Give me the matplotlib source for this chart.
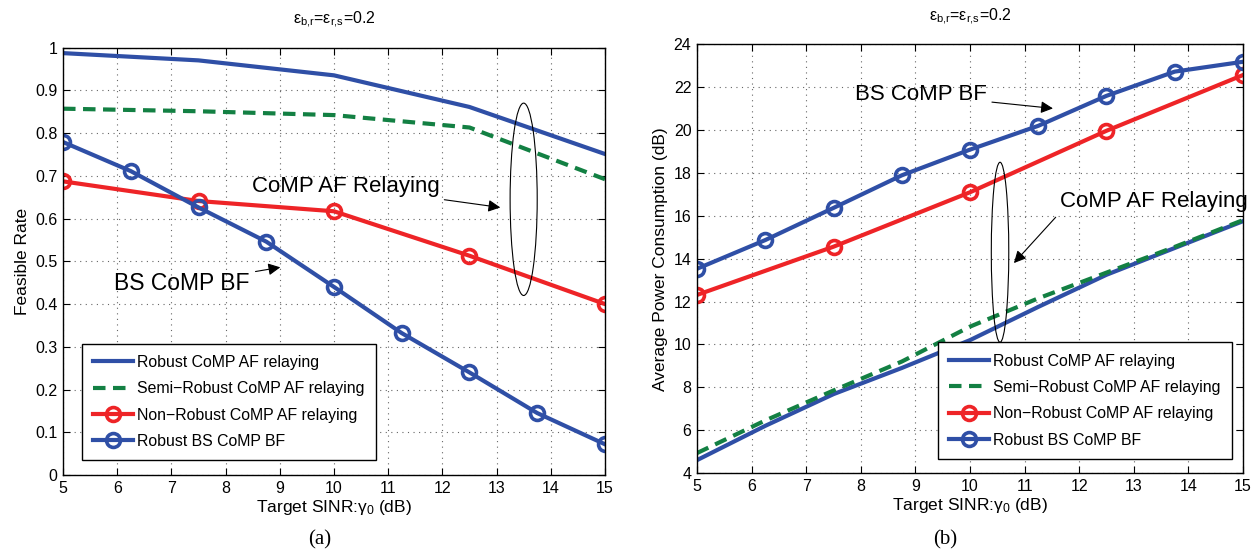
import matplotlib
matplotlib.use('Agg')
import matplotlib.pyplot as plt
from matplotlib.patches import Ellipse

plt.rcParams['font.family'] = ['Liberation Sans', 'DejaVu Sans']
plt.rcParams['mathtext.fontset'] = 'custom'
plt.rcParams['mathtext.rm'] = 'Liberation Sans'
plt.rcParams['mathtext.it'] = 'Liberation Sans'

BLUE = '#2F4FA6'
RED = '#EE2427'
GREEN = '#138043'

# x grids (dB)
x_coarse = [5, 7.5, 10, 12.5, 15]
x_fine = [5, 6.25, 7.5, 8.75, 10, 11.25, 12.5, 13.75, 15]

# (a) feasible rate
rate_robust_af = [0.987, 0.970, 0.935, 0.861, 0.751]
rate_semi_af = [0.857, 0.851, 0.842, 0.813, 0.692]
rate_nonrobust_af = [0.687, 0.641, 0.617, 0.513, 0.400]
rate_bs_bf = [0.779, 0.711, 0.626, 0.546, 0.440, 0.332, 0.240, 0.145, 0.072]

# (b) average power consumption (dB)
pow_robust_af = [4.6, 6.2, 7.68, 8.9, 10.2, 11.75, 13.25, 14.5, 15.75]
pow_semi_af = [4.93, 6.45, 7.85, 9.2, 10.83, 12.15, 13.35, 14.55, 15.8]
pow_nonrobust_af = [12.31, 14.56, 17.1, 19.97, 22.57]
pow_bs_bf = [13.53, 14.87, 16.37, 17.89, 19.09, 20.2, 21.6, 22.73, 23.19]

legend_labels = ['Robust CoMP AF relaying', 'Semi\u2212Robust CoMP AF relaying',
                 'Non\u2212Robust CoMP AF relaying', 'Robust BS CoMP BF']

fig = plt.figure(figsize=(12.53, 5.53), dpi=100)
ax1 = fig.add_axes([0.0503, 0.141, 0.4325, 0.773])
ax2 = fig.add_axes([0.5563, 0.1447, 0.4357, 0.775])

lw = 3
mk = dict(marker='o', markersize=10, markerfacecolor='none', markeredgewidth=2.6)
leg_kw = dict(fontsize=11.4, fancybox=False, edgecolor='black', framealpha=1,
              handlelength=2.5, borderpad=0.7, labelspacing=0.72, handletextpad=0.3,
              borderaxespad=0)


def draw(ax, robust, semi, nonrob, bsbf):
    ax.plot(x_fine if len(robust) == 9 else x_coarse, robust, color=BLUE, lw=lw,
            label=legend_labels[0])
    ax.plot(x_fine if len(semi) == 9 else x_coarse, semi, color=GREEN, lw=lw,
            dashes=(3, 1.8), label=legend_labels[1])
    ax.plot(x_coarse, nonrob, color=RED, lw=lw, markeredgecolor=RED, **mk,
            label=legend_labels[2])
    ax.plot(x_fine, bsbf, color=BLUE, lw=lw, markeredgecolor=BLUE, **mk,
            label=legend_labels[3])
    ax.set_xlim(5, 15)
    ax.set_xticks(range(5, 16))
    ax.grid(True, linestyle=(0, (1, 4)), color='#666666', linewidth=0.8)
    ax.tick_params(direction='in', top=True, right=True, labelsize=11.5, length=5, pad=4)
    for s in ax.spines.values():
        s.set_linewidth(1.0)
    ax.set_xlabel(r'Target SINR:$\gamma_0$ (dB)', fontsize=12.5, labelpad=1.5)
    ax.set_title(r'$\varepsilon_{b{,}r}$=$\varepsilon_{r{,}s}$=0.2', fontsize=11.5, pad=17)


draw(ax1, rate_robust_af, rate_semi_af, rate_nonrobust_af, rate_bs_bf)
ax1.set_ylim(0, 1)
ax1.set_yticks([0, 0.1, 0.2, 0.3, 0.4, 0.5, 0.6, 0.7, 0.8, 0.9, 1])
ax1.set_yticklabels(['0', '0.1', '0.2', '0.3', '0.4', '0.5', '0.6', '0.7', '0.8', '0.9', '1'])
ax1.set_ylabel('Feasible Rate', fontsize=12.5, labelpad=4)
ax1.legend(loc='lower left', bbox_to_anchor=(0.035, 0.035), **leg_kw).get_frame().set_linewidth(1.0)
ax1.add_patch(Ellipse((13.5, 0.645), 0.5, 0.45, fill=False, color='black', lw=0.8, zorder=5))
ax1.annotate('CoMP AF Relaying', xy=(13.12, 0.625), xytext=(11.95, 0.676),
             fontsize=16, ha='right', va='center',
             arrowprops=dict(arrowstyle='-|>', color='black', lw=0.8, mutation_scale=18))
ax1.annotate('BS CoMP BF', xy=(9.06, 0.487), xytext=(8.45, 0.447),
             fontsize=16.5, ha='right', va='center',
             arrowprops=dict(arrowstyle='-|>', color='black', lw=0.8, mutation_scale=18))

draw(ax2, pow_robust_af, pow_semi_af, pow_nonrobust_af, pow_bs_bf)
ax2.set_ylim(4, 24)
ax2.set_yticks(range(4, 25, 2))
ax2.set_ylabel('Average Power Consumption (dB)', fontsize=12.5, labelpad=4)
ax2.legend(loc='lower right', bbox_to_anchor=(0.98, 0.033), **leg_kw).get_frame().set_linewidth(1.0)
ax2.add_patch(Ellipse((10.55, 14.3), 0.32, 8.4, fill=False, color='black', lw=0.8, zorder=5))
ax2.annotate('BS CoMP BF', xy=(11.57, 21.0), xytext=(10.3, 21.65),
             fontsize=16, ha='right', va='center',
             arrowprops=dict(arrowstyle='-|>', color='black', lw=0.8, mutation_scale=18))
ax2.annotate('CoMP AF Relaying', xy=(10.77, 13.7), xytext=(11.65, 16.65),
             fontsize=16, ha='left', va='center', annotation_clip=False,
             arrowprops=dict(arrowstyle='-|>', color='black', lw=0.8, mutation_scale=18,
                             relpos=(0, 0)))

fig.text(0.2555, 0.016, '(a)', fontsize=15, family='Liberation Serif', ha='center')
fig.text(0.754, 0.016, '(b)', fontsize=15, family='Liberation Serif', ha='center')

fig.savefig('out.png', dpi=100)
